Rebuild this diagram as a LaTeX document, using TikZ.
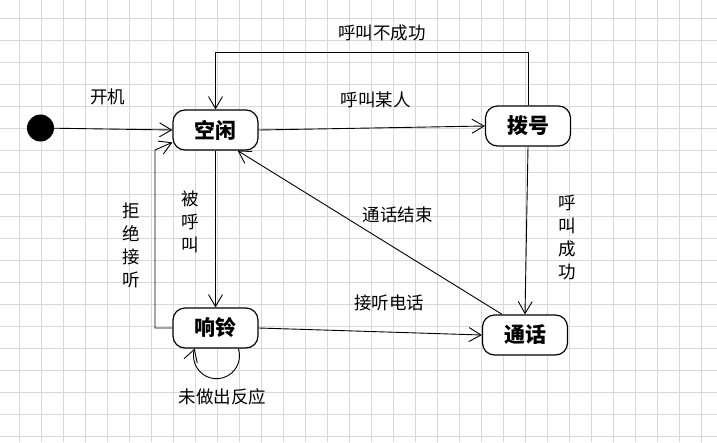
\documentclass[tikz,border=0pt]{standalone}
\usepackage{fontspec}
\setmainfont{Noto Sans CJK SC}
\usepackage{tikz}
\usetikzlibrary{arrows.meta,positioning}
\definecolor{gridgray}{HTML}{D8D8D8}

\tikzset{
    statebox/.style={draw, fill=white, line width=1.2pt, rounded corners=12pt,
        minimum width=85pt, minimum height=40pt, font=\bfseries\fontsize{21}{21}\selectfont},
    trans/.style={line width=0.9pt, -{Straight Barb[length=12pt, width=14pt]}},
    lbl/.style={font=\fontsize{17.5}{23}\selectfont},
    vlbl/.style={lbl, align=center}
}

\begin{document}
\begin{tikzpicture}[x=1pt, y=-1pt]
    % Canvas
    \useasboundingbox (0,0) rectangle (717,442);
    \fill[white] (0,0) rectangle (717,442);

    % Grid
    \foreach \x in {0,...,31} {
        \draw[gridgray, line width=0.8pt] (19.3+22*\x,0) -- (19.3+22*\x,442);
    }
    \foreach \y in {0,...,19} {
        \draw[gridgray, line width=0.8pt] (0,18.5+22*\y) -- (717,18.5+22*\y);
    }

    % === States ===
    \node[fill, circle, inner sep=0pt, minimum size=27pt] (start) at (40.5,128) {};
    \node[statebox] (idle) at (215.5,130) {空闲};
    \node[statebox] (dial) at (528,126) {拨号};
    \node[statebox] (ring) at (215.5,328) {响铃};
    \node[statebox] (talk) at (525,335) {通话};

    % === Transitions ===
    \draw[trans] (start) -- (idle.west);
    \draw[trans] (idle.east) -- (dial.west);
    \draw[trans] (dial.north) -- ++(0,-53) -| (idle.north);
    \draw[trans] (idle.south) -- (ring.north);
    \coordinate (rejectbend) at (155,150);
    \draw[trans] (ring.west) -| (rejectbend) -- (idle.196);
    \draw[trans] (dial.south) -- (talk.north);
    \draw[trans] (talk.138) -- (idle.317);
    \draw[trans] (ring.east) -- (talk.west);
    \draw[trans] (ring.-42) arc[start angle=-18, end angle=198, radius=23];

    % === Labels ===
    \node[lbl] (lpoweron) at (107.5,97) {开机};
    \node[lbl] (lcall) at (375.5,100) {呼叫某人};
    \node[lbl] (lfail) at (382,33) {呼叫不成功};
    \node[lbl] (lend) at (397.5,215) {通话结束};
    \node[lbl] (lanswer) at (389,303) {接听电话};
    \node[lbl] (lnoreply) at (222.5,397) {未做出反应};
    \node[vlbl] (lcalled) at (190,222) {被\\呼\\叫};
    \node[vlbl] (lreject) at (131,245) {拒\\绝\\接\\听};
    \node[vlbl] (lsuccess) at (567,238) {呼\\叫\\成\\功};
\end{tikzpicture}
\end{document}
